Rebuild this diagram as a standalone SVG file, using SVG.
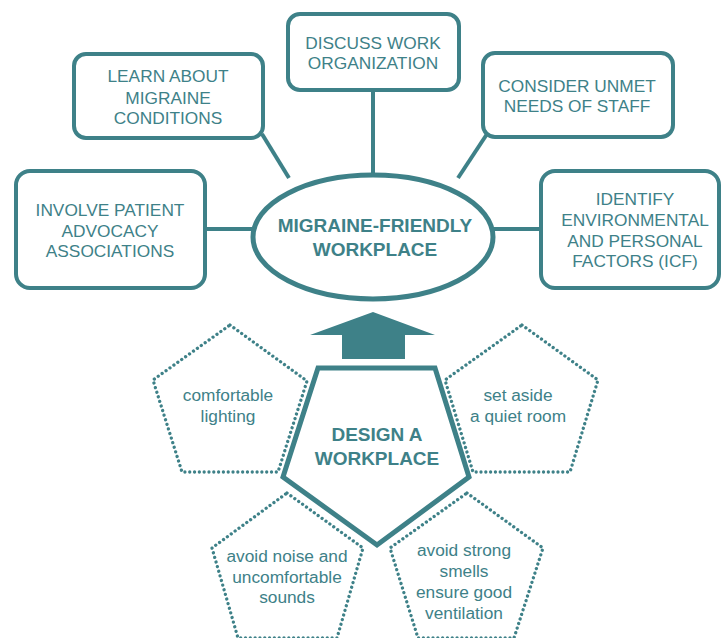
<svg xmlns="http://www.w3.org/2000/svg" width="721" height="638" viewBox="0 0 721 638">
<style>
.box{fill:#fff;stroke:#3e8188;stroke-width:4}
.con{stroke:#3e8188;stroke-width:4;fill:none}
.dot{fill:#fff;stroke:#3e8188;stroke-width:3.3;stroke-linecap:round;stroke-dasharray:0.01 4.8}
.t{font-family:"Liberation Sans",Arial,sans-serif;font-size:17.3px;fill:#3e8188;text-anchor:middle}
.b{font-family:"Liberation Sans",Arial,sans-serif;font-size:19px;font-weight:bold;fill:#3e8188;text-anchor:middle}
</style>
<rect width="721" height="638" fill="#fff"/>
<g id="connectors">
<line class="con" x1="205" y1="229" x2="253" y2="229"/>
<line class="con" x1="262" y1="134" x2="289" y2="178"/>
<line class="con" x1="373" y1="90" x2="373" y2="175"/>
<line class="con" x1="487" y1="134" x2="458" y2="178"/>
<line class="con" x1="493" y1="229" x2="541" y2="229"/>
<polygon points="373,312 310,335 342,335 342,359 405,359 405,335 435,335" fill="#3e8188"/>
</g>
<g id="learn">
<rect class="box" x="74" y="54" width="189" height="84" rx="12"/>
<text class="t" x="168" y="82">LEARN ABOUT</text>
<text class="t" x="168" y="104">MIGRAINE</text>
<text class="t" x="168" y="124">CONDITIONS</text>
</g>
<g id="involve">
<rect class="box" x="16" y="171" width="189" height="117" rx="14"/>
<text class="t" x="110" y="216">INVOLVE PATIENT</text>
<text class="t" x="110" y="237">ADVOCACY</text>
<text class="t" x="110" y="257">ASSOCIATIONS</text>
</g>
<g id="discuss">
<rect class="box" x="288" y="14" width="171" height="76" rx="12"/>
<text class="t" x="373" y="49">DISCUSS WORK</text>
<text class="t" x="373" y="69">ORGANIZATION</text>
</g>
<g id="consider">
<rect class="box" x="483" y="53" width="190" height="84" rx="12"/>
<text class="t" x="577" y="92">CONSIDER UNMET</text>
<text class="t" x="577" y="112">NEEDS OF STAFF</text>
</g>
<g id="identify">
<rect class="box" x="541" y="171" width="178" height="117" rx="14"/>
<text class="t" x="635" y="205">IDENTIFY</text>
<text class="t" x="635" y="226">ENVIRONMENTAL</text>
<text class="t" x="635" y="247">AND PERSONAL</text>
<text class="t" x="635" y="267">FACTORS (ICF)</text>
</g>
<g id="center">
<ellipse cx="373" cy="237" rx="120" ry="62" fill="#fff" stroke="#3e8188" stroke-width="5"/>
<text class="b" x="375" y="232">MIGRAINE-FRIENDLY</text>
<text class="b" x="375" y="256">WORKPLACE</text>
</g>
<g id="lighting">
<polygon class="dot" points="230,325 307,381 278,472 182,472 153,380"/>
<text class="t" x="228" y="401">comfortable</text>
<text class="t" x="228" y="422">lighting</text>
</g>
<g id="quiet">
<polygon class="dot" points="522,325 598,380 570,472 473,472 445,380"/>
<text class="t" x="518" y="401">set aside</text>
<text class="t" x="518" y="422">a quiet room</text>
</g>
<g id="noise">
<polygon class="dot" points="287,493 363,548 337,638 238,638 212,548"/>
<text class="t" x="287" y="562">avoid noise and</text>
<text class="t" x="287" y="583">uncomfortable</text>
<text class="t" x="287" y="603">sounds</text>
</g>
<g id="smells">
<polygon class="dot" points="467,493 543,548 514,638 418,638 390,548"/>
<text class="t" x="464" y="556">avoid strong</text>
<text class="t" x="464" y="577">smells</text>
<text class="t" x="464" y="598">ensure good</text>
<text class="t" x="464" y="619">ventilation</text>
</g>
<g id="design">
<polygon points="318,368 435,368 469,477 377,545 283,477" fill="#fff" stroke="#3e8188" stroke-width="5" stroke-linejoin="miter"/>
<text class="b" x="377" y="441">DESIGN A</text>
<text class="b" x="377" y="465">WORKPLACE</text>
</g>
</svg>
